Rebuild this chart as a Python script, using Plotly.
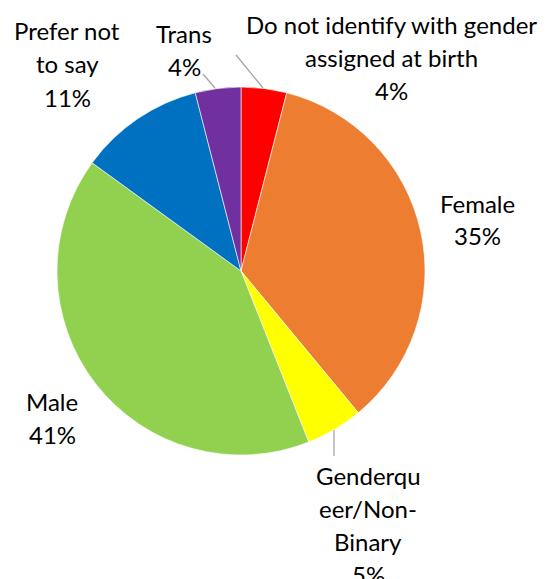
import plotly.graph_objects as go

categories = ["Do not identify with gender assigned at birth", "Female",
              "Genderqueer/Non-Binary", "Male", "Prefer not to say", "Trans"]
values = [4, 35, 5, 41, 11, 4]
colors = ["#FF0000", "#ED7D31", "#FFFF00", "#92D050", "#0070C0", "#7030A0"]
label_lines = [
    ["Do not identify with gender", "assigned at birth", "4%"],
    ["Female", "35%"],
    ["Genderqu", "eer/Non-", "Binary", "5%"],
    ["Male", "41%"],
    ["Prefer not", "to say", "11%"],
    ["Trans", "4%"],
]

PAGE_W, PAGE_H = 553, 579
OFF = 8  # page body margin
W, H = PAGE_W - OFF, PAGE_H - OFF
CX, CY, R = 241, 271, 184
# label centre x, first-line centre y (pixels in the page)
label_pos = [(391, 25), (477, 203), (368, 475), (52, 401), (67, 31), (184, 33)]
LINE_STEP = 33
leaders = [((236, 55), (263, 88)), ((203, 74), (215, 88)), ((334, 430), (334, 456))]

def px(x):
    return (x - OFF) / W

def py(y):
    return 1 - (y - OFF) / H

fig = go.Figure(go.Pie(
    labels=categories, values=values, sort=False, direction="clockwise",
    rotation=0, textinfo="none", hoverinfo="label+percent",
    marker=dict(colors=colors, line=dict(color="white", width=0.6)),
    domain=dict(x=[px(CX - R), px(CX + R)], y=[py(CY + R), py(CY - R)]),
    showlegend=False,
))

shapes = []
for (x0, y0), (x1, y1) in leaders:
    shapes.append(dict(type="line", xref="paper", yref="paper",
                       x0=px(x0), y0=py(y0), x1=px(x1), y1=py(y1),
                       line=dict(color="#A6A6A6", width=1.3)))

annotations = []
for lines, (lx, ly) in zip(label_lines, label_pos):
    for k, t in enumerate(lines):
        annotations.append(dict(text=t, x=px(lx), y=py(ly + k * LINE_STEP),
                                xref="paper", yref="paper", showarrow=False,
                                xanchor="center", yanchor="middle",
                                font=dict(family="Lato", size=24, color="#000000")))

fig.update_layout(width=W, height=H, margin=dict(l=0, r=0, t=0, b=0),
                  paper_bgcolor="white", plot_bgcolor="white",
                  shapes=shapes, annotations=annotations)
fig.write_html("out.html")
